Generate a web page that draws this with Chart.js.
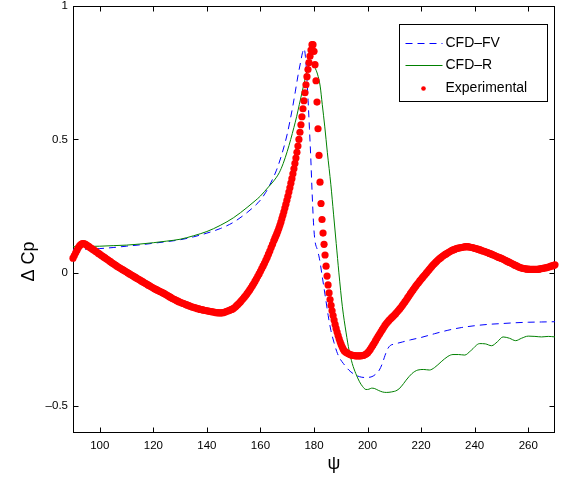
<!DOCTYPE html>
<html>
<head>
<meta charset="utf-8">
<script src="https://cdn.jsdelivr.net/npm/chart.js@4.4.1/dist/chart.umd.min.js"></script>
<style>
  html, body { margin: 0; padding: 0; background: #fff; }
  #wrap { width: 566px; height: 477px; }
</style>
</head>
<body>
<div id="wrap"><canvas id="cpChart" width="566" height="477"></canvas></div>
<script>
// axis ticks
const xTicks = [100, 120, 140, 160, 180, 200, 220, 240, 260];
const xTickLabels = ['100', '120', '140', '160', '180', '200', '220', '240', '260'];
const yTicks = [-0.5, 0, 0.5, 1];
const yTickLabels = ['\u20130.5', '0', '0.5', '1'];

// CFD-FV (blue dashed)
const fvPsi = [90, 95, 100, 105, 110, 115, 120, 125, 130, 135, 140, 145, 150, 155, 158, 160, 162, 164, 166, 168,
  170, 171, 172, 173, 174, 175, 175.7, 176.3, 176.8, 177.3, 177.8, 178.3, 178.8, 179.3, 179.8, 180.3, 181.3, 182,
  183.1, 184.4, 185.3, 186.3, 187.5, 188.5, 189.5, 191, 193, 195, 197, 199, 201.3, 203, 204.4, 205.5, 206.5,
  207.5, 208.5, 210, 213, 216, 220, 225, 230, 235, 240, 245, 250, 255, 260, 265, 270];
const fvCp = [0.088, 0.089, 0.091, 0.095, 0.1, 0.105, 0.111, 0.117, 0.124, 0.135, 0.149, 0.166, 0.19, 0.226, 0.252,
  0.273, 0.302, 0.34, 0.385, 0.445, 0.52, 0.568, 0.62, 0.678, 0.738, 0.79, 0.825, 0.84, 0.81, 0.74, 0.645, 0.54,
  0.43, 0.3, 0.19, 0.125, 0.085, 0.055, -0.015, -0.1, -0.16, -0.215, -0.262, -0.295, -0.318, -0.34, -0.364, -0.38,
  -0.389, -0.392, -0.39, -0.38, -0.364, -0.34, -0.31, -0.285, -0.272, -0.267, -0.259, -0.251, -0.242, -0.228,
  -0.215, -0.205, -0.198, -0.193, -0.19, -0.187, -0.185, -0.184, -0.183];

// CFD-R (green solid)
const rPsi = [90, 95, 100, 105, 110, 115, 120, 125, 130, 135, 140, 145, 150, 155, 158, 160, 163, 165, 167, 168.5,
  170, 171.3, 172.5, 173.5, 174.5, 175.5, 176.5, 177.3, 178, 178.8, 179.5, 180.3, 181.3, 182.3, 183.1, 184, 185,
  186.3, 187.3, 188.3, 189.3, 190.6, 192, 193.1, 194.3, 195.6, 197, 198.1, 199.4, 200.5, 201.5, 202.5, 204, 205.5,
  207, 209, 211, 212.5, 214.4, 216.5, 218.8, 221, 223.1, 225, 227.5, 230, 231.9, 234, 236.3, 238.5, 241.9, 244,
  246.3, 248.5, 250.6, 253, 255.3, 257.5, 260, 262.5, 265, 267.5, 270];
const rCp = [0.098, 0.099, 0.1, 0.102, 0.104, 0.108, 0.113, 0.119, 0.126, 0.139, 0.155, 0.178, 0.207, 0.245, 0.27,
  0.288, 0.322, 0.345, 0.375, 0.41, 0.455, 0.5, 0.545, 0.585, 0.63, 0.675, 0.72, 0.755, 0.775, 0.787, 0.785, 0.77,
  0.745, 0.7, 0.63, 0.55, 0.45, 0.33, 0.22, 0.11, 0.0, -0.127, -0.225, -0.29, -0.34, -0.377, -0.408, -0.425, -0.437,
  -0.436, -0.432, -0.433, -0.44, -0.446, -0.448, -0.446, -0.44, -0.427, -0.402, -0.378, -0.364, -0.362, -0.364,
  -0.355, -0.333, -0.313, -0.306, -0.306, -0.308, -0.292, -0.265, -0.266, -0.273, -0.258, -0.24, -0.245, -0.254,
  -0.245, -0.237, -0.238, -0.24, -0.238, -0.24];

// Experimental (red dots) - read every half degree on the slow parts, denser on the peak
const expPsi = [
  90, 90.5, 91, 91.5, 92, 92.5, 93, 93.5, 94, 94.5, 95, 95.5, 96, 96.5, 97, 97.5, 98, 98.5, 99, 99.5,
  100, 100.5, 101, 101.5, 102, 102.5, 103, 103.5, 104, 104.5, 105, 105.5, 106, 106.5, 107, 107.5, 108, 108.5, 109, 109.5,
  110, 110.5, 111, 111.5, 112, 112.5, 113, 113.5, 114, 114.5, 115, 115.5, 116, 116.5, 117, 117.5, 118, 118.5, 119, 119.5,
  120, 120.5, 121, 121.5, 122, 122.5, 123, 123.5, 124, 124.5, 125, 125.5, 126, 126.5, 127, 127.5, 128, 128.5, 129, 129.5,
  130, 130.5, 131, 131.5, 132, 132.5, 133, 133.5, 134, 134.5, 135, 135.5, 136, 136.5, 137, 137.5, 138, 138.5, 139, 139.5,
  140, 140.5, 141, 141.5, 142, 142.5, 143, 143.5, 144, 144.5, 145, 145.5, 146, 146.5, 147, 147.5, 148, 148.5, 149, 149.5,
  150, 150.5, 151, 151.5, 152, 152.5, 153, 153.5, 154, 154.5, 155, 155.5, 156, 156.5, 157, 157.5, 158, 158.5, 159, 159.5,
  160, 160.5, 161, 161.5, 162, 162.5, 163, 163.5, 164, 164.5,
  165, 165.375, 165.75, 166.125, 166.5, 166.875, 167.25, 167.625, 168, 168.375, 168.75, 169.125, 169.5, 169.875,
  170.25, 170.625, 171, 171.375, 171.75, 172.125, 172.5, 172.875, 173.25, 173.625, 174, 174.375, 174.75, 175.125,
  175.5, 175.875, 176.25, 176.625, 177, 177.375, 177.75, 178.125, 178.5, 178.875, 179.25, 179.625, 180, 180.375,
  180.75, 181.125, 181.5, 181.875, 182.25, 182.625, 183, 183.375, 183.75, 184.125, 184.5, 184.875, 185.25, 185.625,
  186, 186.375, 186.75, 187.125, 187.5, 187.875, 188.25, 188.625, 189, 189.375, 189.75, 190.125, 190.5, 190.875,
  191.25, 191.625,
  192, 192.5, 193, 193.5, 194, 194.5, 195, 195.5, 196, 196.5, 197, 197.5, 198, 198.5, 199, 199.5,
  200, 200.5, 201, 201.5, 202, 202.5, 203, 203.5, 204, 204.5, 205, 205.5, 206, 206.5, 207, 207.5, 208, 208.5, 209, 209.5,
  210, 210.5, 211, 211.5, 212, 212.5, 213, 213.5, 214, 214.5, 215, 215.5, 216, 216.5, 217, 217.5, 218, 218.5, 219, 219.5,
  220, 220.5, 221, 221.5, 222, 222.5, 223, 223.5, 224, 224.5, 225, 225.5, 226, 226.5, 227, 227.5, 228, 228.5, 229, 229.5,
  230, 230.5, 231, 231.5, 232, 232.5, 233, 233.5, 234, 234.5, 235, 235.5, 236, 236.5, 237, 237.5, 238, 238.5, 239, 239.5,
  240, 240.5, 241, 241.5, 242, 242.5, 243, 243.5, 244, 244.5, 245, 245.5, 246, 246.5, 247, 247.5, 248, 248.5, 249, 249.5,
  250, 250.5, 251, 251.5, 252, 252.5, 253, 253.5, 254, 254.5, 255, 255.5, 256, 256.5, 257, 257.5, 258, 258.5, 259, 259.5,
  260, 260.5, 261, 261.5, 262, 262.5, 263, 263.5, 264, 264.5, 265, 265.5, 266, 266.5, 267, 267.5, 268, 268.5, 269, 269.5,
  270];
const expCp = [
  0.055, 0.065, 0.075, 0.085, 0.095, 0.102, 0.107, 0.11, 0.11, 0.108, 0.105, 0.101, 0.098, 0.094, 0.091, 0.087, 0.084, 0.08, 0.077, 0.073,
  0.07, 0.066, 0.063, 0.059, 0.056, 0.052, 0.049, 0.045, 0.042, 0.038, 0.035, 0.031, 0.028, 0.024, 0.021, 0.018, 0.015, 0.012, 0.009, 0.006,
  0.003, 0, -0.003, -0.006, -0.009, -0.012, -0.015, -0.018, -0.021, -0.024, -0.027, -0.03, -0.033, -0.036, -0.039, -0.042, -0.045, -0.048, -0.051, -0.054,
  -0.057, -0.06, -0.062, -0.065, -0.067, -0.07, -0.072, -0.075, -0.077, -0.08, -0.083, -0.086, -0.089, -0.092, -0.095, -0.098, -0.1, -0.103, -0.105, -0.108,
  -0.11, -0.112, -0.114, -0.116, -0.118, -0.12, -0.122, -0.124, -0.126, -0.128, -0.129, -0.131, -0.132, -0.134, -0.135, -0.137, -0.138, -0.139, -0.14, -0.141,
  -0.142, -0.143, -0.144, -0.145, -0.146, -0.147, -0.148, -0.149, -0.149, -0.15, -0.15, -0.15, -0.149, -0.148, -0.146, -0.144, -0.142, -0.14, -0.138, -0.136,
  -0.133, -0.129, -0.124, -0.119, -0.114, -0.109, -0.103, -0.097, -0.091, -0.085, -0.078, -0.071, -0.064, -0.056, -0.048, -0.04, -0.031, -0.022, -0.013, -0.004,
  0.006, 0.016, 0.026, 0.036, 0.047, 0.058, 0.07, 0.082, 0.095, 0.107,
  0.12, 0.129, 0.138, 0.147, 0.157, 0.167, 0.178, 0.19, 0.203, 0.216, 0.229, 0.243, 0.257, 0.272,
  0.287, 0.303, 0.319, 0.336, 0.353, 0.371, 0.39, 0.41, 0.43, 0.452, 0.475, 0.5, 0.527, 0.555,
  0.585, 0.615, 0.645, 0.675, 0.705, 0.735, 0.762, 0.788, 0.812, 0.835, 0.855, 0.855, 0.83, 0.78,
  0.72, 0.64, 0.54, 0.44, 0.34, 0.26, 0.2, 0.149, 0.107, 0.067, 0.025, -0.012, -0.045, -0.075,
  -0.1, -0.122, -0.142, -0.16, -0.177, -0.193, -0.208, -0.222, -0.235, -0.247, -0.258, -0.268, -0.277, -0.285,
  -0.292, -0.295,
  -0.298, -0.301, -0.304, -0.306, -0.308, -0.309, -0.31, -0.311, -0.311, -0.311, -0.311, -0.311, -0.31, -0.309, -0.307, -0.304,
  -0.3, -0.294, -0.287, -0.279, -0.271, -0.263, -0.254, -0.245, -0.237, -0.229, -0.221, -0.213, -0.205, -0.197, -0.19, -0.184, -0.178, -0.173, -0.168, -0.163,
  -0.158, -0.153, -0.147, -0.141, -0.135, -0.129, -0.122, -0.115, -0.108, -0.101, -0.093, -0.086, -0.078, -0.071, -0.064, -0.057, -0.05, -0.043, -0.037, -0.03,
  -0.024, -0.018, -0.012, -0.006, 0, 0.006, 0.012, 0.018, 0.024, 0.03, 0.035, 0.04, 0.045, 0.05, 0.054, 0.058, 0.062, 0.066, 0.069, 0.072,
  0.075, 0.078, 0.081, 0.084, 0.086, 0.088, 0.09, 0.092, 0.093, 0.094, 0.095, 0.096, 0.097, 0.098, 0.098, 0.098, 0.097, 0.096, 0.095, 0.094,
  0.092, 0.091, 0.089, 0.088, 0.086, 0.084, 0.082, 0.081, 0.079, 0.077, 0.075, 0.073, 0.071, 0.069, 0.067, 0.065, 0.062, 0.06, 0.058, 0.056,
  0.054, 0.052, 0.049, 0.047, 0.044, 0.042, 0.039, 0.037, 0.034, 0.032, 0.029, 0.027, 0.024, 0.022, 0.02, 0.018, 0.017, 0.016, 0.015, 0.014,
  0.014, 0.013, 0.013, 0.013, 0.013, 0.013, 0.013, 0.013, 0.014, 0.015, 0.016, 0.017, 0.018, 0.019, 0.02, 0.022, 0.023, 0.025, 0.026, 0.028,
  0.03];

const FONT = '"Liberation Sans", Arial, Helvetica, sans-serif';
const toPoints = (xs, ys) => xs.map((x, i) => ({ x: x, y: ys[i] }));

// matlab style box with inward ticks + axis labels
const axesBox = {
    id: 'axesBox',
    beforeDatasetsDraw(chart) {
        const { ctx, chartArea: a, scales } = chart;
        const L = Math.round(a.left) + 0.5, R = Math.round(a.right) - 0.5;
        const T = Math.round(a.top) + 0.5, B = Math.round(a.bottom) - 0.5;
        const tl = 5;
        ctx.save();
        ctx.strokeStyle = '#000';
        ctx.lineWidth = 1;
        ctx.strokeRect(L, T, R - L, B - T);
        ctx.beginPath();
        xTicks.forEach(v => {
            const px = Math.round(scales.x.getPixelForValue(v)) + 0.5;
            ctx.moveTo(px, B); ctx.lineTo(px, B - tl);
            ctx.moveTo(px, T); ctx.lineTo(px, T + tl);
        });
        yTicks.forEach(v => {
            const py = Math.round(scales.y.getPixelForValue(v)) + 0.5;
            ctx.moveTo(L, py); ctx.lineTo(L + tl, py);
            ctx.moveTo(R, py); ctx.lineTo(R - tl, py);
        });
        ctx.stroke();

        // axis titles
        ctx.fillStyle = '#000';
        ctx.font = '18px ' + FONT;
        ctx.textAlign = 'center';
        ctx.textBaseline = 'middle';
        ctx.fillText('\u03c8', (a.left + a.right) / 2 + 20, a.bottom + 31);
        ctx.translate(a.left - 44, (a.top + a.bottom) / 2 + 42);
        ctx.rotate(-Math.PI / 2);
        ctx.fillText('\u0394 Cp', 0, 0);
        ctx.restore();
    },
    afterDatasetsDraw(chart) {
        // legend box, north east
        const { ctx, chartArea: a } = chart;
        const ds = chart.data.datasets;
        const w = 148, h = 77;
        const left = Math.round(a.right - 8 - w) + 0.5, top = Math.round(a.top + 18) + 0.5;
        ctx.save();
        ctx.fillStyle = '#fff';
        ctx.fillRect(left, top, w, h);
        ctx.strokeStyle = '#000';
        ctx.lineWidth = 1;
        ctx.strokeRect(left, top, w, h);
        ctx.font = '14px ' + FONT;
        ctx.textAlign = 'left';
        ctx.textBaseline = 'middle';
        const rows = [18, 40, 63];
        ds.forEach((d, i) => {
            const yy = Math.round(top + rows[i]) + 0.5;
            if (d.showLine) {
                ctx.strokeStyle = d.borderColor;
                ctx.lineWidth = d.borderWidth;
                ctx.setLineDash(d.borderDash || []);
                ctx.beginPath();
                ctx.moveTo(left + 6, yy);
                ctx.lineTo(left + 43, yy);
                ctx.stroke();
                ctx.setLineDash([]);
            } else {
                ctx.fillStyle = d.pointBackgroundColor;
                ctx.beginPath();
                ctx.arc(left + 24, yy, 2.3, 0, Math.PI * 2);
                ctx.fill();
            }
            ctx.fillStyle = '#000';
            ctx.fillText(d.label, left + 46, yy);
        });
        ctx.restore();
    }
};

const ctx = document.getElementById('cpChart').getContext('2d');
new Chart(ctx, {
    type: 'scatter',
    data: {
        datasets: [
            {
                label: 'CFD\u2013FV',
                data: toPoints(fvPsi, fvCp),
                showLine: true,
                borderColor: '#0000ff',
                borderWidth: 1,
                borderDash: [7, 5],
                pointRadius: 0,
                cubicInterpolationMode: 'monotone',
                order: 2
            },
            {
                label: 'CFD\u2013R',
                data: toPoints(rPsi, rCp),
                showLine: true,
                borderColor: '#008000',
                borderWidth: 1,
                pointRadius: 0,
                cubicInterpolationMode: 'monotone',
                order: 1
            },
            {
                label: 'Experimental',
                data: toPoints(expPsi, expCp),
                showLine: false,
                pointRadius: 3.6,
                pointBackgroundColor: '#ff0000',
                pointBorderWidth: 0,
                clip: false,
                order: 0
            }
        ]
    },
    options: {
        responsive: false,
        animation: false,
        events: [],
        layout: { padding: { left: 0, right: 11, top: 6, bottom: 0 } },
        plugins: { legend: { display: false }, tooltip: { enabled: false } },
        scales: {
            x: {
                type: 'linear',
                min: 90,
                max: 270,
                grid: { display: false, drawTicks: false },
                border: { display: false },
                afterBuildTicks: s => { s.ticks = xTicks.map(v => ({ value: v })); },
                afterFit: s => { s.height = 44; s.paddingLeft = 0; s.paddingRight = 0; },
                ticks: {
                    autoSkip: false,
                    maxRotation: 0,
                    padding: 6,
                    color: '#000',
                    font: { family: FONT, size: 11.5 },
                    callback: (v, i) => xTickLabels[i]
                }
            },
            y: {
                type: 'linear',
                min: -0.6,
                max: 1,
                grid: { display: false, drawTicks: false },
                border: { display: false },
                afterBuildTicks: s => { s.ticks = yTicks.map(v => ({ value: v })); },
                afterFit: s => { s.width = 73; s.paddingTop = 0; s.paddingBottom = 0; },
                ticks: {
                    autoSkip: false,
                    padding: 5,
                    color: '#000',
                    font: { family: FONT, size: 11.5 },
                    callback: (v, i) => yTickLabels[i]
                }
            }
        }
    },
    plugins: [axesBox]
});
</script>
</body>
</html>
